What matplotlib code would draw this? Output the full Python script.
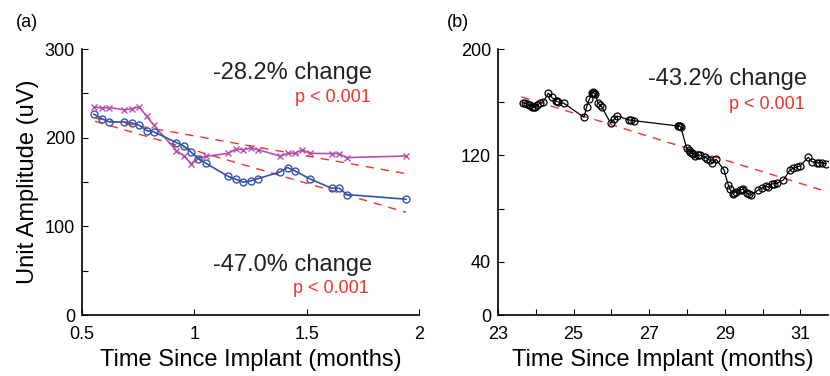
import matplotlib
matplotlib.use('Agg')
import matplotlib.pyplot as plt

plt.rcParams['font.family'] = ['Liberation Sans', 'DejaVu Sans']

# ---- panel (a): two units ----
t_blue = [0.553, 0.590, 0.621, 0.686, 0.721, 0.754, 0.788, 0.820, 0.920, 0.953,
          0.985, 1.018, 1.052, 1.151, 1.184, 1.217, 1.251, 1.283, 1.382, 1.415,
          1.448, 1.513, 1.611, 1.645, 1.678, 1.942]
amp_blue = [226.5, 221.2, 217.8, 217.8, 216.6, 214.0, 208.0, 206.5, 194.5, 190.6,
            183.8, 176.3, 171.0, 156.3, 153.2, 149.8, 151.2, 153.8, 161.4, 166.3,
            162.5, 153.7, 143.0, 143.0, 135.9, 130.6]

t_mag = [0.553, 0.590, 0.621, 0.688, 0.721, 0.754, 0.788, 0.820, 0.920, 0.953,
         0.985, 1.018, 1.052, 1.151, 1.184, 1.217, 1.251, 1.283, 1.382, 1.415,
         1.448, 1.480, 1.513, 1.613, 1.645, 1.678, 1.942]
amp_mag = [234.8, 233.3, 234.0, 231.4, 232.5, 234.8, 224.2, 214.0, 185.4, 179.7,
           170.7, 177.0, 179.0, 182.3, 187.2, 186.5, 188.3, 186.5, 179.3, 182.3,
           182.3, 186.5, 182.3, 182.0, 182.0, 177.5, 179.3]

fit_a_x = [0.558, 1.942]
fit_mag = [222.0, 159.4]
fit_blue = [218.5, 115.8]

# ---- panel (b): long-term unit ----
t_b = [23.653, 23.714, 23.776, 23.810, 23.847, 23.908, 23.940, 23.979, 24.040, 24.111,
       24.200, 24.331, 24.420, 24.526, 24.560, 24.595, 24.746, 25.275, 25.346, 25.415,
       25.479, 25.500, 25.521, 25.540, 25.566, 25.653, 25.700, 25.743, 25.981, 26.069,
       26.156, 26.474, 26.520, 26.598, 27.770, 27.790, 27.810, 27.833, 27.992, 28.040,
       28.079, 28.120, 28.151, 28.220, 28.280, 28.344, 28.476, 28.540, 28.608, 28.653,
       28.767, 28.979, 29.093, 29.138, 29.209, 29.250, 29.296, 29.402, 29.450, 29.489,
       29.595, 29.640, 29.685, 29.886, 29.976, 30.090, 30.150, 30.241, 30.300, 30.373,
       30.548, 30.725, 30.812, 30.900, 30.989, 31.209, 31.298, 31.430, 31.500, 31.563,
       31.677]
amp_b = [159.6, 159.2, 158.6, 158.0, 157.9, 156.6, 156.4, 156.2, 157.9, 159.2,
         160.4, 166.7, 163.7, 161.1, 160.6, 160.2, 159.2, 148.6, 156.6, 162.2,
         166.7, 167.4, 167.2, 166.9, 166.2, 159.2, 157.8, 156.6, 144.1, 147.1,
         149.6, 146.6, 146.4, 146.1, 142.1, 141.9, 141.8, 141.6, 125.3, 124.0,
         122.8, 121.9, 121.1, 119.5, 120.0, 120.3, 118.6, 117.6, 116.5, 114.1,
         117.1, 109.0, 97.7, 94.5, 91.0, 91.8, 92.7, 94.0, 94.3, 94.5,
         91.5, 90.8, 90.2, 94.0, 95.3, 97.0, 96.0, 98.5, 98.8, 99.0,
         101.5, 109.0, 110.3, 111.2, 112.0, 118.6, 115.3, 114.5, 114.5, 114.5,
         113.5]

fit_b_x = [23.62, 31.65]
fit_b = [164.0, 93.2]

RED = '#F0342A'
BLUE = '#3553AC'
MAG = '#B750AE'

fig = plt.figure(figsize=(8.3, 3.76), dpi=100)
ax1 = fig.add_axes([82 / 830, 61 / 376, 337 / 830, 266 / 376])
ax2 = fig.add_axes([498 / 830, 61 / 376, 330 / 830, 266 / 376])

for ax in (ax1, ax2):
    for s in ('top', 'right'):
        ax.spines[s].set_visible(False)
    for s in ('left', 'bottom'):
        ax.spines[s].set_linewidth(1.2)
    ax.tick_params(direction='in', length=4, width=0.8, labelsize=13, pad=5)
    ax.tick_params(axis='x', pad=8)

# (a)
ax1.plot(fit_a_x, fit_mag, '--', color=RED, lw=1.0, dashes=(6, 5))
ax1.plot(fit_a_x, fit_blue, '--', color=RED, lw=1.0, dashes=(6, 5))
ax1.plot(t_mag, amp_mag, '-x', color=MAG, lw=1.2, ms=4, mew=1.0)
ax1.plot(t_blue, amp_blue, '-o', color=BLUE, lw=1.2, ms=5, mew=1.0, mfc='none')
ax1.set_xlim(0.5, 2)
ax1.set_ylim(0, 300)
ax1.set_xticks([0.5, 1, 1.5, 2])
ax1.set_xticklabels(['0.5', '1', '1.5', '2'])
ax1.set_yticks([0, 50, 100, 150, 200, 250, 300])
ax1.set_yticklabels(['0', '', '100', '', '200', '', '300'])
ax1.set_xlabel('Time Since Implant (months)', fontsize=17, labelpad=4)
ax1.set_ylabel('Unit Amplitude (uV)', fontsize=17, labelpad=4)
ax1.text(1.79, 266, '-28.2% change', fontsize=17, ha='right', va='baseline', color='#222222')
ax1.text(1.785, 240, 'p < 0.001', fontsize=13, ha='right', va='baseline', color=RED)
ax1.text(1.79, 50, '-47.0% change', fontsize=17, ha='right', va='baseline', color='#222222')
ax1.text(1.775, 25, 'p < 0.001', fontsize=13, ha='right', va='baseline', color=RED)

# (b)
ax2.plot(fit_b_x, fit_b, '--', color=RED, lw=1.0, dashes=(6, 5))
ax2.plot(t_b, amp_b, '-o', color='black', lw=0.9, ms=5, mew=0.9, mfc='none')
ax2.set_xlim(23, 31.73)
ax2.set_ylim(0, 200)
ax2.set_xticks(range(23, 32))
ax2.set_xticklabels(['23', '', '25', '', '27', '', '29', '', '31'])
ax2.set_yticks([0, 40, 80, 120, 160, 200])
ax2.set_yticklabels(['0', '40', '', '120', '', '200'])
ax2.set_xlabel('Time Since Implant (months)', fontsize=17, labelpad=4)
ax2.text(31.17, 173, '-43.2% change', fontsize=17, ha='right', va='baseline', color='#222222')
ax2.text(31.12, 155, 'p < 0.001', fontsize=13, ha='right', va='baseline', color=RED)

fig.text(16 / 830, 1 - 27 / 376, '(a)', fontsize=13, va='baseline')
fig.text(447 / 830, 1 - 27 / 376, '(b)', fontsize=13, va='baseline')

fig.savefig('out.png', dpi=100)
